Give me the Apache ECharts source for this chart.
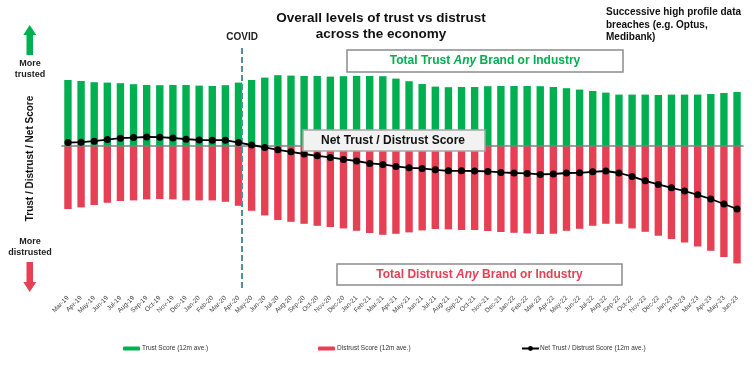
<!DOCTYPE html>
<html>
<head>
<meta charset="utf-8">
<script src="https://cdn.jsdelivr.net/npm/echarts@6/dist/echarts.min.js"></script>
<style>html,body{margin:0;padding:0;background:#fff}#c{width:754px;height:365px}</style>
</head>
<body>
<div id="c"></div>
<script>
var months = ['Mar-19','Apr-19','May-19','Jun-19','Jul-19','Aug-19','Sep-19','Oct-19','Nov-19','Dec-19',
  'Jan-20','Feb-20','Mar-20','Apr-20','May-20','Jun-20','Jul-20','Aug-20','Sep-20','Oct-20','Nov-20','Dec-20',
  'Jan-21','Feb-21','Mar-21','Apr-21','May-21','Jun-21','Jul-21','Aug-21','Sep-21','Oct-21','Nov-21','Dec-21',
  'Jan-22','Feb-22','Mar-22','Apr-22','May-22','Jun-22','Jul-22','Aug-22','Sep-22','Oct-22','Nov-22','Dec-22',
  'Jan-23','Feb-23','Mar-23','Apr-23','May-23','Jun-23'];
var trustScore = [33,32.5,31.9,31.7,31.4,30.9,30.5,30.4,30.5,30.5,30.2,30,30.4,31.7,33,34.2,35.4,35.2,35,35,34.7,34.9,35,35,
  34.9,33.7,32.4,31,29.7,29.4,29.5,29.5,29.9,30,30,30,29.9,29.5,28.9,28.2,27.5,26.7,25.7,25.7,25.7,25.5,25.7,25.7,25.7,26,26.5,27];
var distrustScore = [-31.5,-30.7,-29.5,-28.4,-27.5,-27.2,-26.7,-26.5,-26.7,-27.2,-27.2,-27.2,-27.9,-29.9,-32.4,-34.7,-37,-37.9,-38.9,-39.9,-40.5,-41.2,-42.4,-43.5,
  -44.4,-43.9,-43.2,-42.2,-41.5,-41.7,-42,-42,-42.5,-43,-43.4,-43.7,-44,-43.9,-42.4,-41.4,-39.9,-38.9,-38.9,-41.2,-42.9,-44.9,-46.5,-48.2,-50.2,-52.4,-55.5,-58.7];
var netScore = [1.7,1.9,2.4,3.2,3.9,4.2,4.5,4.4,4,3.4,3,2.9,2.9,1.7,0.5,-0.7,-1.9,-2.9,-4,-4.9,-5.7,-6.7,-7.5,-8.7,
  -9.2,-10.2,-10.9,-11.2,-11.9,-12.4,-12.4,-12.5,-12.7,-13.2,-13.5,-13.7,-14.2,-14,-13.5,-13.4,-12.9,-12.5,-13.5,-15.2,-17.4,-19.2,-20.9,-22.5,-24.4,-26.5,-29,-31.5];
var covidPosition = [13.28];

var FONT = 'Liberation Sans, Arial, sans-serif';
var GREEN = '#00b050', RED = '#e64055';
var chart = echarts.init(document.getElementById('c'), null, {renderer: 'canvas'});

chart.setOption({
  animation: false,
  textStyle: {fontFamily: FONT},
  title: {
    text: 'Overall levels of trust vs distrust\nacross the economy',
    left: 376, top: 5, textAlign: 'center',
    textStyle: {fontSize: 13.5, fontWeight: 'bold', color: '#111', lineHeight: 16, fontFamily: FONT}
  },
  grid: {left: 61.4, right: 10.4, top: 46, bottom: 77},
  legend: [
    {data: ['Trust Score (12m ave.)'], left: 118, top: 340, itemWidth: 17, itemHeight: 4, itemGap: 2,
     textStyle: {fontSize: 6.5, color: '#333', fontFamily: FONT, padding: [0,0,0,-3]}},
    {data: ['Distrust Score (12m ave.)'], left: 313, top: 340, itemWidth: 17, itemHeight: 4,
     textStyle: {fontSize: 6.5, color: '#333', fontFamily: FONT, padding: [0,0,0,-3]}},
    {data: ['Net Trust / Distrust Score (12m ave.)'], left: 516, top: 340, itemWidth: 17, itemHeight: 6,
     textStyle: {fontSize: 6.5, color: '#333', fontFamily: FONT, padding: [0,0,0,-4]}}
  ],
  xAxis: [
    {type: 'category', data: months, boundaryGap: true,
     axisLine: {show: false}, axisTick: {show: false},
     axisLabel: {interval: 0, rotate: 45, fontSize: 6.5, color: '#404040', margin: 9, fontFamily: FONT}},
    {type: 'value', min: -0.5, max: 51.5, show: false}
  ],
  yAxis: {type: 'value', min: -71, max: 50, show: false},
  series: [
    {name: 'Trust Score (12m ave.)', type: 'bar', data: trustScore, barWidth: 7.4, barGap: '-100%',
     itemStyle: {color: GREEN},
     markLine: {silent: true, symbol: 'none', label: {show: false},
       lineStyle: {color: '#7f7f7f', width: 1.5, type: 'solid'}, data: [{yAxis: 0}]}},
    {name: 'Distrust Score (12m ave.)', type: 'bar', data: distrustScore, barWidth: 7.4, barGap: '-100%',
     itemStyle: {color: RED}},
    {name: 'Net Trust / Distrust Score (12m ave.)', type: 'line', data: netScore,
     symbol: 'circle', symbolSize: 7, showAllSymbol: true,
     lineStyle: {color: '#000', width: 1.8}, itemStyle: {color: '#000'}, z: 5},
    {name: 'covid', type: 'scatter', xAxisIndex: 1, data: [],
     markLine: {silent: true, symbol: 'none',
       lineStyle: {color: '#4a90a8', width: 2, type: [6, 3]},
       label: {show: true, position: 'end', formatter: 'COVID', fontSize: 10, fontWeight: 'bold', color: '#222', distance: 4, fontFamily: FONT},
       data: covidPosition.map(function (v) { return {xAxis: v}; })}}
  ],
  graphic: [
    {type: 'text', left: 606, top: 6, z: 100,
     style: {text: 'Successive high profile data\nbreaches (e.g. Optus,\nMedibank)', fontSize: 10, fontWeight: 'bold', fill: '#111', lineHeight: 12.5, font: 'bold 10px ' + FONT}},
    {type: 'polygon', z: 100, shape: {points: [[23.3,35],[29.7,25],[36.3,35],[33,35],[33,55],[26.5,55],[26.5,35]]}, style: {fill: '#00b050'}},
    {type: 'polygon', z: 100, shape: {points: [[26.5,262],[33,262],[33,282],[36.3,282],[29.7,292],[23.3,282],[26.5,282]]}, style: {fill: '#e64055'}},
    {type: 'text', x: 30, y: 69, z: 100, style: {text: 'More\ntrusted', align: 'center', verticalAlign: 'middle', font: 'bold 9px ' + FONT, lineHeight: 11.5, fill: '#222'}},
    {type: 'text', x: 30, y: 247, z: 100, style: {text: 'More\ndistrusted', align: 'center', verticalAlign: 'middle', font: 'bold 9px ' + FONT, lineHeight: 11.5, fill: '#222'}},
    {type: 'text', x: 30, y: 158.5, rotation: Math.PI / 2, z: 100, style: {text: 'Trust / Distrust / Net Score', align: 'center', verticalAlign: 'middle', font: 'bold 10px ' + FONT, fill: '#111'}},
    {type: 'rect', z: 100, shape: {x: 347, y: 50, width: 276, height: 22}, style: {fill: '#fff', stroke: '#8c8c8c', lineWidth: 1.5}},
    {type: 'text', z: 101, x: 485, y: 61, style: {text: '{a|Total Trust }{b|Any}{a| Brand or Industry}', align: 'center', verticalAlign: 'middle',
      rich: {a: {font: 'bold 12px ' + FONT, fill: GREEN}, b: {font: 'italic bold 12px ' + FONT, fill: GREEN}}}},
    {type: 'rect', z: 100, shape: {x: 303, y: 130, width: 182, height: 21}, style: {fill: '#f2f2f2', stroke: '#a6a6a6', lineWidth: 1.5}},
    {type: 'text', z: 101, x: 393, y: 141, style: {text: 'Net Trust / Distrust Score', align: 'center', verticalAlign: 'middle', font: 'bold 12px ' + FONT, fill: '#111'}},
    {type: 'rect', z: 100, shape: {x: 337, y: 264, width: 285, height: 21}, style: {fill: '#fff', stroke: '#8c8c8c', lineWidth: 1.5}},
    {type: 'text', z: 101, x: 479.5, y: 275, style: {text: '{a|Total Distrust }{b|Any}{a| Brand or Industry}', align: 'center', verticalAlign: 'middle',
      rich: {a: {font: 'bold 12px ' + FONT, fill: RED}, b: {font: 'italic bold 12px ' + FONT, fill: RED}}}}
  ]
});
</script>
</body>
</html>
